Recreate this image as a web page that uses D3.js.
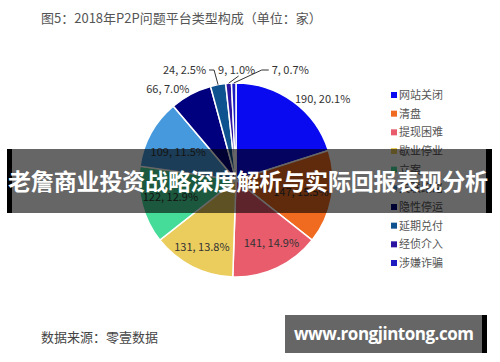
<!DOCTYPE html>
<html>
<head>
<meta charset="utf-8">
<script src="https://cdn.jsdelivr.net/npm/d3@7"></script>
<style>
  body { margin: 0; background: #fff; }
  svg { display: block; font-family: "Noto Sans CJK SC", "DejaVu Sans", sans-serif; }
</style>
</head>
<body>
<div id="chart"></div>
<script>
// data
const categories = ['网站关闭', '清盘', '提现困难', '歇业停业', '立案', '失联跑路', '隐性停运', '延期兑付', '经侦介入', '涉嫌诈骗'];
const counts = [190, 147, 141, 131, 122, 109, 66, 24, 9, 7];
const percents = ['20.1%', '15.5%', '14.9%', '13.8%', '12.9%', '11.5%', '7.0%', '2.5%', '1.0%', '0.7%'];
const colors = ['#0a0af0', '#f06a20', '#e85c6c', '#ebcd5e', '#44dc98', '#4599dc', '#00007e', '#0f5290', '#2c14a0', '#1c1cc0'];

const titleText = '图5：2018年P2P问题平台类型构成（单位：家）';
const sourceText = '数据来源：零壹数据';
const bandText = '老詹商业投资战略深度解析与实际回报表现分析';
const siteText = 'www.rongjintong.com';

const width = 500, height = 362;
const cx = 236, cy = 180, r = 97;

let svg = d3.select('#chart').append('svg')
    .attr('width', width)
    .attr('height', height);

svg.append('rect')
    .attr('width', width)
    .attr('height', height)
    .attr('fill', '#fff');

// title + source
svg.append('text')
    .text(titleText)
    .attr('x', 41)
    .attr('y', 23)
    .attr('fill', '#555')
    .style('font-size', '13px');

svg.append('text')
    .text(sourceText)
    .attr('x', 41)
    .attr('y', 342)
    .attr('fill', '#444')
    .style('font-size', '13px');

// * PIE * //
let pie = d3.pie().sort(null).value((d) => d);
let arcs = pie(counts);
let arc = d3.arc().innerRadius(0).outerRadius(r);

let g = svg.append('g').attr('transform', `translate(${cx},${cy})`);

g.selectAll('path')
    .data(arcs)
    .enter()
    .append('path')
    .attr('d', arc)
    .attr('fill', (d, i) => colors[i])
    .attr('stroke', '#fff')
    .attr('stroke-width', 1.5);

// helper: point on the circle at a given radius
function pointAt(a, rad) {
    return [Math.sin(a) * rad, -Math.cos(a) * rad];
}

let labelFont = '11px';
let labelColor = '#333';
// radius factor for the inside labels (slices 1..5)
let inR = [0, 0.68, 0.72, 0.78, 0.7, 0.68];

arcs.forEach((d, i) => {
    let mid = (d.startAngle + d.endAngle) / 2;
    let txt = counts[i] + ', ' + percents[i];
    if (i >= 1 && i <= 5) {
        // inside labels
        let p = pointAt(mid, r * inR[i]);
        g.append('text')
            .text(txt)
            .attr('x', p[0] + (i == 2 ? 6 : 0))
            .attr('y', p[1] + (i == 5 ? 4 : 0))
            .attr('dy', '0.35em')
            .attr('text-anchor', 'middle')
            .attr('fill', labelColor)
            .style('font-size', labelFont);
    } else if (i == 0 || i == 6) {
        // outside labels
        let p = pointAt(mid, r + 3);
        g.append('text')
            .text(txt)
            .attr('x', p[0])
            .attr('y', p[1] - (i == 6 ? 2 : 0))
            .attr('dy', '0.35em')
            .attr('text-anchor', p[0] > 0 ? 'start' : 'end')
            .attr('fill', labelColor)
            .style('font-size', labelFont);
    } else {
        // tiny slices, labels above with leader lines
        let e = pointAt(mid, r);
        let ty = -r - 13;
        let pts, tx, anchor;
        if (i == 7) {
            pts = [e, [e[0] - 4, ty], [e[0] - 9, ty]];
            tx = e[0] - 12; anchor = 'end';
        } else if (i == 8) {
            pts = [e, [e[0] + 10, ty + 6]];
            tx = e[0] + 8; anchor = 'middle';
        } else {
            pts = [e, [e[0] + 28, ty], [e[0] + 35, ty]];
            tx = e[0] + 38; anchor = 'start';
        }
        g.append('path')
            .attr('d', d3.line()(pts))
            .attr('fill', 'none')
            .attr('stroke', '#333')
            .attr('stroke-width', 1);
        g.append('text')
            .text(txt)
            .attr('x', tx)
            .attr('y', ty)
            .attr('dy', '0.35em')
            .attr('text-anchor', anchor)
            .attr('fill', labelColor)
            .style('font-size', labelFont);
    }
});

// * LEGEND * //
let legY = d3.scalePoint()
    .domain(categories)
    .range([95, 263]);

let leg = svg.append('g');
categories.forEach((c, i) => {
    leg.append('rect')
        .attr('x', 391)
        .attr('y', legY(c) - 3)
        .attr('width', 6)
        .attr('height', 6)
        .attr('fill', colors[i]);
    leg.append('text')
        .text(c)
        .attr('x', 399)
        .attr('y', legY(c))
        .attr('dy', '0.35em')
        .attr('fill', '#555')
        .style('font-size', '11px');
});

// * OVERLAY BAND * //
svg.append('rect')
    .attr('x', 12).attr('y', 149)
    .attr('width', 474).attr('height', 64)
    .attr('fill', '#000')
    .attr('opacity', 0.6);
svg.append('rect')
    .attr('x', 7).attr('y', 149)
    .attr('width', 5).attr('height', 64)
    .attr('fill', '#000');
svg.append('rect')
    .attr('x', 486).attr('y', 149)
    .attr('width', 6).attr('height', 64)
    .attr('fill', '#000');
svg.append('text')
    .text(bandText)
    .attr('x', 248)
    .attr('y', 190)
    .attr('text-anchor', 'middle')
    .attr('fill', '#fff')
    .attr('textLength', 480)
    .style('font-size', '23px')
    .style('font-weight', 'bold');

// * SITE BOX * //
svg.append('rect')
    .attr('x', 285).attr('y', 315)
    .attr('width', 197).attr('height', 38)
    .attr('fill', '#666');
svg.append('rect')
    .attr('x', 482).attr('y', 315)
    .attr('width', 5).attr('height', 38)
    .attr('fill', '#000');
svg.append('text')
    .text(siteText)
    .attr('x', 384)
    .attr('y', 340)
    .attr('text-anchor', 'middle')
    .attr('fill', '#fff')
    .attr('textLength', 180)
    .style('font-family', '"Open Sans", "DejaVu Sans", sans-serif')
    .style('font-size', '17px')
    .style('font-weight', 'bold');
</script>
</body>
</html>
